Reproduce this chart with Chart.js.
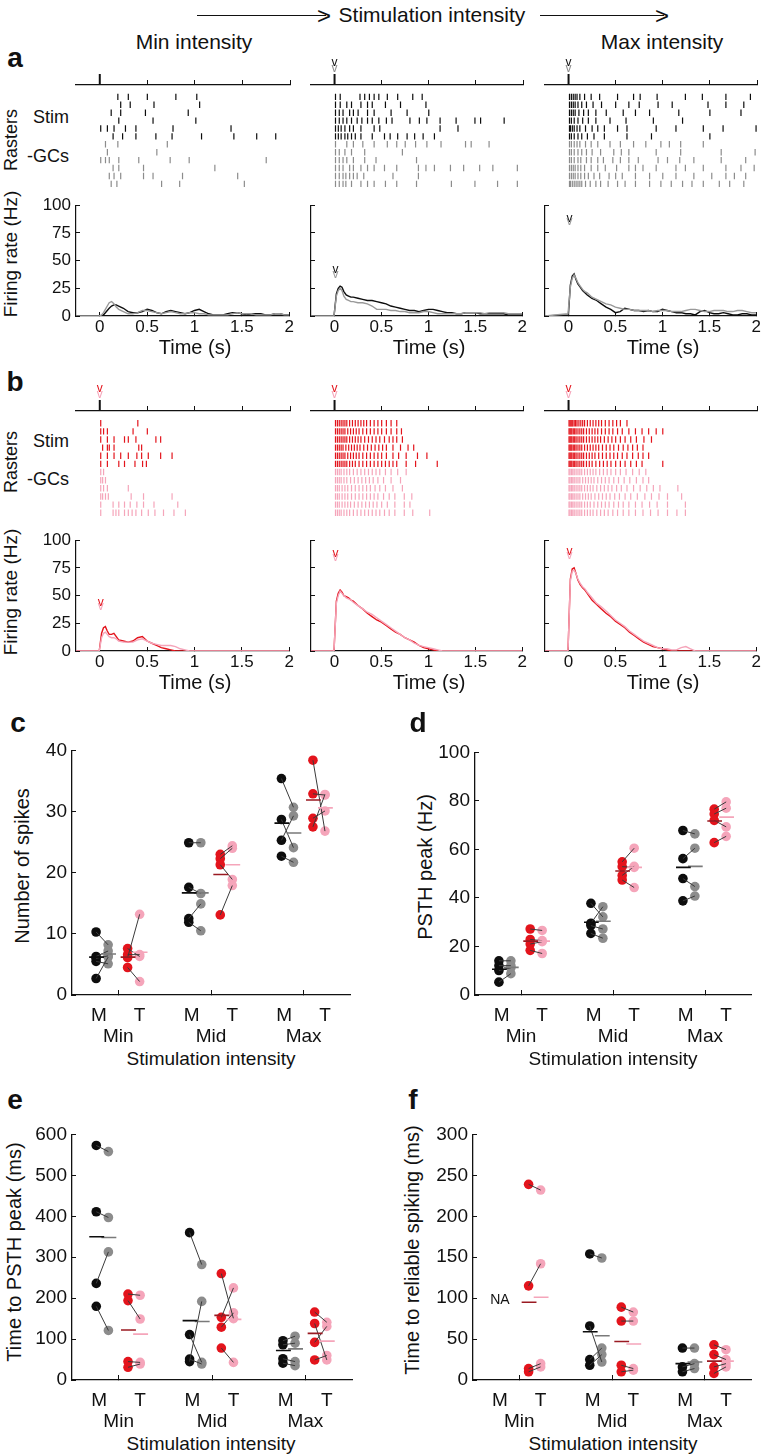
<!DOCTYPE html>
<html>
<head>
<meta charset="utf-8">
<script src="https://cdn.jsdelivr.net/npm/chart.js@4.4.0/dist/chart.umd.min.js"></script>
<style>
  body { margin:0; background:#fff; width:766px; height:1455px; position:relative; overflow:hidden;
         font-family:"Liberation Sans", Arial, Helvetica, sans-serif; color:#111; }
  canvas { position:absolute; }
  .t { position:absolute; white-space:nowrap; line-height:1; color:#111; }
</style>
</head>
<body>
<script>
// ---------- PSTH data (time in s, rate in Hz) ----------
const psthT = [-0.25,-0.005,0,0.02,0.04,0.06,0.08,0.1,0.125,0.15,0.175,0.2,
  0.25,0.3,0.35,0.4,0.45,0.5,0.55,0.6,0.65,0.7,0.75,0.8,0.85,0.9,0.95,1.0,1.05,1.1,1.15,1.2,
  1.25,1.3,1.35,1.4,1.45,1.5,1.55,1.6,1.65,1.7,1.75,1.8,1.85,1.9,1.95,2.0];
const psthTicks = [0, 0.5, 1, 1.5, 2];
const rateTicks = [0, 25, 50, 75, 100];

// row a: stimulation with black (Stim) / gray (-GCs)
const a1Blk = [0,0,0,0,1,3,5,7,9,10,10,9, 7,4,3,3,4,6,5,3,2,4,5,4, 3,2,3,5,6,4,2,1,1,1,2,3, 3,2,1,2,2,2,1,1,2,2,1,1];
const a1Gry = [0,0,0,1,3,6,9,12,13,11,8,6, 4,2,2,3,5,5,4,3,2,3,4,3, 2,2,3,3,2,2,1,1,1,1,1,2, 3,2,2,2,1,1,1,1,2,2,1,1];
const a2Blk = [0,0,0,20,25,27,26,22,19,18,17,17, 16,15,14,14,13,12,11,9,8,7,6,5, 5,4,5,6,6,5,4,3,3,2,2,3, 3,3,2,2,2,2,2,2,1,1,1,1];
const a2Gry = [0,0,0,18,23,25,23,18,15,14,13,13, 12,12,11,9,6,6,6,5,5,4,4,3, 3,3,4,4,3,2,2,2,2,2,2,3, 3,3,3,2,3,3,3,3,2,2,2,2];
const a3Blk = [0,1,2,28,36,38,33,29,26,23,21,19, 16,14,11,8,6,3,4,7,6,5,5,4, 5,4,4,6,5,4,3,3,2,2,1,4, 5,3,2,2,3,2,1,1,2,2,1,1];
const a3Gry = [0,2,2,26,34,37,34,30,27,24,22,21, 17,15,13,11,10,8,7,6,6,5,5,5, 5,4,5,5,5,4,4,4,5,6,6,5, 4,4,5,5,5,4,4,5,5,4,3,3];
// row b: red (Stim) / pink (-GCs)
const b1Red = [0,0,0,16,21,22,18,15,15,16,13,10, 9,8,9,12,13,9,7,5,3,2,1,0, 0,0,0,0,0,0,0,0,0,0,0,0, 0,0,0,0,0,0,0,0,0,0,0,0];
const b1Pnk = [0,0,0,12,16,17,15,13,12,12,11,9, 8,8,8,10,11,9,7,6,5,5,5,4, 2,1,0,0,0,0,0,0,0,0,0,0, 0,0,0,0,0,0,0,0,0,0,0,0];
const b2Red = [0,0,0,45,52,55,53,50,49,48,46,45, 41,38,34,31,28,26,23,20,17,15,12,10, 8,5,3,2,1,0,0,0,0,0,0,0, 0,0,0,0,0,0,0,0,0,0,0,0];
const b2Pnk = [0,0,0,43,50,54,52,50,48,47,46,44, 41,38,35,33,30,27,24,21,18,15,12,10, 7,5,4,3,2,1,0,0,0,0,0,0, 0,0,0,0,0,0,0,0,0,0,0,0];
const b3Red = [0,0,0,65,74,75,70,64,60,57,55,52, 46,42,38,34,31,27,24,21,17,14,11,8, 6,4,3,2,1,0,0,0,0,0,0,0, 0,0,0,0,0,0,0,0,0,0,0,0];
const b3Pnk = [0,0,0,63,72,73,70,65,61,58,56,53, 48,43,40,36,32,28,25,22,18,15,12,9, 7,5,3,2,2,1,1,3,4,2,0,0, 0,0,0,0,0,0,0,0,0,0,0,0];

// peak markers "v" (Hz) for [dark, light] trace, per column
const vPsthA = [null, [42, 37], [88, 85]];
const vPsthB = [[44, 40], [88, 84], [90, 86]];

// ---------- raster spike times (s); rows 1-6 Stim, rows 7-12 -GCs ----------
const rasA1 = [
  [0.19,0.30,0.50,0.80,1.02], [0.22,0.32,0.57,1.05], [0.12,0.22,0.48,0.93], [0.20,0.56,1.01],
  [0.01,0.08,0.15,0.27,0.38,0.77,1.38], [0.14,0.24,0.38,0.59,0.76,1.07,1.41,1.65,1.85],
  [0.06,0.19,0.71], [0.08,0.60], [0.01,0.06,0.10,0.20,0.41,0.74,0.94,1.75], [0.14,0.20,0.46,1.21],
  [0.10,0.15,0.22,0.46,0.56,0.87,1.45], [0.12,0.18,0.65,0.84,1.52]];
const rasA2 = [
  [0.01,0.06,0.27,0.32,0.37,0.42,0.47,0.56,0.67,0.83,0.93],
  [0.01,0.06,0.13,0.18,0.28,0.35,0.40,0.54,0.70,0.97],
  [0.01,0.05,0.09,0.16,0.20,0.25,0.35,0.42,0.60,0.77,1.00],
  [0.01,0.05,0.09,0.13,0.18,0.24,0.29,0.35,0.40,0.47,0.55,0.61,0.80,0.90,0.98,1.12,1.29,1.49,1.55,1.80],
  [0.01,0.04,0.07,0.11,0.16,0.20,0.28,0.42,0.48,1.12,1.31],
  [0.01,0.04,0.07,0.11,0.14,0.18,0.22,0.28,0.40,0.53,0.59,0.67,0.77,0.85,0.94,1.06],
  [0.01,0.13,0.20,0.30,0.42,0.56,0.66,0.75,0.86,0.98,1.13,1.39,1.45,1.64],
  [0.01,0.05,0.11,0.18,0.32,0.72],
  [0.01,0.05,0.09,0.13,0.20,0.32,0.44,0.87],
  [0.01,0.05,0.09,0.16,0.20,0.28,0.35,0.42,0.53,0.66,0.89,0.97,1.06,1.23,1.37,1.54,1.68,1.94],
  [0.01,0.05,0.09,0.12,0.16,0.20,0.24,0.31,0.62,0.89],
  [0.01,0.05,0.09,0.12,0.18,0.28,0.35,0.42,0.54,0.66,0.87,1.24,1.49,1.73,1.94]];
const rasA3 = [
  [0.01,0.03,0.05,0.07,0.09,0.12,0.17,0.24,0.33,0.52,0.69,0.76,0.94,1.24,1.42,1.67,1.93],
  [0.01,0.03,0.05,0.07,0.10,0.14,0.19,0.26,0.35,0.50,0.64,0.75,0.95,1.10,1.48,1.67,1.86],
  [0.01,0.03,0.05,0.07,0.11,0.16,0.21,0.29,0.40,0.58,0.71,0.86,1.17,1.50,1.83],
  [0.01,0.03,0.06,0.10,0.15,0.21,0.29,0.44,0.61,0.90,1.21],
  [0.01,0.02,0.04,0.06,0.09,0.12,0.18,0.25,0.31,0.38,0.52,0.62,0.93,1.14,1.43,1.64,1.99],
  [0.01,0.03,0.06,0.10,0.14,0.20,0.27,0.38,0.62,0.88,1.50],
  [0.01,0.03,0.06,0.09,0.12,0.18,0.24,0.31,0.44,0.55,0.69,0.82,0.98,1.07,1.19,1.43],
  [0.01,0.03,0.06,0.10,0.14,0.19,0.25,0.34,0.48,0.56,0.64,0.93,1.19,1.62,1.98],
  [0.01,0.03,0.06,0.10,0.13,0.19,0.24,0.31,0.37,0.47,0.55,0.64,0.74,0.95,1.05,1.18,1.33,1.62,1.88],
  [0.01,0.03,0.05,0.07,0.10,0.13,0.17,0.24,0.31,0.39,0.51,0.64,0.71,0.79,0.93,1.14,1.24,1.43,1.67,1.83,1.97],
  [0.01,0.03,0.05,0.07,0.10,0.13,0.17,0.21,0.27,0.33,0.43,0.50,0.57,0.71,0.86,1.00,1.14,1.33,1.52,1.67,1.76,1.88],
  [0.01,0.02,0.04,0.06,0.08,0.10,0.12,0.14,0.18,0.23,0.29,0.34,0.42,0.52,0.60,0.71,0.86,0.98,1.09,1.21,1.31,1.43,1.60,1.71,1.86]];
const rasB1 = [
  [0.01,0.40], [0.01,0.04,0.08,0.35,0.50], [0.01,0.08,0.15,0.26,0.30,0.38,0.59,0.64],
  [0.03,0.08,0.10,0.15,0.41,0.44], [0.01,0.08,0.15,0.22,0.30,0.39,0.44,0.51,0.64,0.76],
  [0.01,0.08,0.20,0.26,0.37,0.45,0.49],
  [0.01,0.04], [0.01,0.03,0.06], [0.01,0.04,0.08,0.30], [0.01,0.03,0.06,0.09,0.33,0.46,0.76],
  [0.01,0.14,0.20,0.26,0.32,0.39,0.46,0.57,0.82],
  [0.01,0.14,0.17,0.20,0.26,0.30,0.34,0.38,0.44,0.51,0.58,0.67,0.78,0.90]];
const rasB2 = [
  [0.01,0.03,0.05,0.07,0.09,0.11,0.13,0.16,0.19,0.22,0.25,0.28,0.31,0.34,0.38,0.42,0.46,0.50,0.55,0.60,0.66],
  [0.01,0.03,0.05,0.07,0.09,0.11,0.14,0.17,0.20,0.23,0.26,0.30,0.34,0.38,0.42,0.46,0.50,0.55,0.60,0.66,0.71],
  [0.01,0.03,0.05,0.07,0.09,0.11,0.13,0.16,0.19,0.22,0.25,0.28,0.32,0.36,0.40,0.44,0.48,0.53,0.58,0.62,0.66,0.72],
  [0.01,0.03,0.05,0.07,0.09,0.12,0.15,0.18,0.21,0.24,0.27,0.31,0.35,0.39,0.43,0.47,0.51,0.55,0.62,0.70,0.78,0.84],
  [0.01,0.03,0.05,0.07,0.09,0.11,0.14,0.17,0.20,0.23,0.26,0.30,0.34,0.38,0.42,0.46,0.50,0.55,0.62,0.68,0.76,0.88,0.98],
  [0.01,0.03,0.05,0.07,0.09,0.11,0.13,0.16,0.19,0.22,0.26,0.30,0.34,0.38,0.42,0.46,0.50,0.54,0.58,0.62,0.66,0.76,0.86,1.09],
  [0.01,0.03,0.05,0.07,0.10,0.13,0.16,0.20,0.24,0.28,0.32,0.36,0.40,0.44,0.48,0.54,0.60,0.67,0.76],
  [0.01,0.03,0.05,0.07,0.10,0.13,0.17,0.21,0.25,0.29,0.33,0.37,0.41,0.46,0.52,0.60,0.70],
  [0.01,0.03,0.05,0.08,0.11,0.14,0.18,0.22,0.26,0.30,0.34,0.38,0.43,0.48,0.54,0.62,0.72],
  [0.01,0.03,0.05,0.08,0.11,0.14,0.18,0.22,0.26,0.30,0.34,0.38,0.42,0.46,0.52,0.58,0.64,0.74,0.82],
  [0.01,0.03,0.05,0.08,0.11,0.14,0.17,0.21,0.25,0.29,0.33,0.37,0.41,0.45,0.50,0.56,0.64,0.74,0.80],
  [0.01,0.03,0.05,0.07,0.10,0.13,0.16,0.20,0.24,0.28,0.32,0.36,0.40,0.44,0.48,0.53,0.58,0.64,0.74,0.83,1.01]];
const rasB3 = [
  [0.005,0.015,0.025,0.035,0.045,0.06,0.075,0.09,0.11,0.13,0.15,0.17,0.20,0.23,0.26,0.29,0.32,0.35,0.39,0.43,0.47,0.51,0.55,0.62],
  [0.005,0.015,0.025,0.035,0.05,0.065,0.08,0.10,0.12,0.14,0.16,0.19,0.22,0.25,0.28,0.31,0.35,0.39,0.43,0.47,0.52,0.57,0.64,0.71,0.78,0.85,0.93,1.0],
  [0.005,0.015,0.025,0.035,0.05,0.065,0.08,0.10,0.12,0.14,0.16,0.19,0.22,0.25,0.28,0.31,0.34,0.38,0.42,0.46,0.50,0.55,0.60,0.66,0.72,0.80,0.88],
  [0.005,0.015,0.025,0.035,0.05,0.065,0.08,0.10,0.12,0.14,0.17,0.20,0.23,0.26,0.29,0.32,0.36,0.40,0.44,0.48,0.53,0.58,0.63,0.68,0.73,0.79],
  [0.005,0.015,0.025,0.035,0.05,0.065,0.08,0.10,0.12,0.14,0.16,0.19,0.22,0.25,0.28,0.32,0.36,0.40,0.44,0.48,0.52,0.57,0.62,0.68,0.74,0.79,0.85],
  [0.005,0.015,0.025,0.035,0.05,0.065,0.08,0.10,0.12,0.14,0.16,0.19,0.22,0.25,0.29,0.33,0.37,0.41,0.45,0.50,0.55,0.60,0.66,0.72,0.78,1.0],
  [0.005,0.015,0.03,0.045,0.06,0.08,0.10,0.12,0.14,0.17,0.20,0.23,0.26,0.29,0.33,0.37,0.41,0.45,0.50,0.55,0.61,0.68,0.75,0.82],
  [0.005,0.015,0.03,0.045,0.06,0.08,0.10,0.12,0.15,0.18,0.21,0.24,0.27,0.31,0.35,0.39,0.43,0.48,0.53,0.59,0.65,0.72,0.79,0.85],
  [0.005,0.015,0.03,0.045,0.06,0.08,0.10,0.12,0.14,0.17,0.20,0.23,0.26,0.30,0.34,0.38,0.42,0.46,0.51,0.56,0.62,0.69,0.76,0.83,0.90,0.97,1.16],
  [0.005,0.015,0.03,0.045,0.06,0.08,0.10,0.12,0.15,0.18,0.21,0.24,0.28,0.32,0.36,0.40,0.44,0.49,0.54,0.60,0.66,0.73,0.81,0.88,0.96,1.05,1.2],
  [0.005,0.015,0.03,0.045,0.06,0.08,0.10,0.12,0.14,0.17,0.20,0.23,0.27,0.31,0.35,0.39,0.43,0.48,0.53,0.58,0.64,0.71,0.78,0.86,0.94,1.05,1.24],
  [0.005,0.015,0.03,0.045,0.06,0.08,0.10,0.12,0.14,0.17,0.20,0.23,0.26,0.30,0.34,0.38,0.42,0.47,0.52,0.58,0.64,0.71,0.79,0.87,0.95,1.05,1.15,1.24]];
// raster "v" markers: which columns have them
const vRasA = [false, true, true];
const vRasB = [true, true, true];

// ---------- summary panels: groups Min / Mid / Max, paired by index ----------
const groupNames = ['Min', 'Mid', 'Max'];
const condNames = ['M', 'T'];

// c: number of spikes
const spkBlk = [[10.3,6.3,5.5,2.7,6.0], [24.9,17.6,12.5,11.9], [35.4,28.7,25.3,22.7]];
const spkGry = [[8.2,7.2,5.1,6.2,6.4], [24.9,16.6,14.9,10.5], [30.7,24.1,29.3,21.7]];
const spkRed = [[7.6,6.1,4.5,6.6], [23.0,22.3,21.3,13.1], [38.4,32.9,28.9,27.5]];
const spkPnk = [[6.3,13.2,2.2,6.6], [24.4,24.0,18.9,17.9], [26.8,32.7,30.1,32.8]];
const spkMeanBlk = [6.2, 16.7, 28.1], spkMeanGry = [6.7, 16.7, 26.5];
const spkMeanRed = [6.2, 19.7, 31.9], spkMeanPnk = [7.0, 21.3, 30.6];

// d: PSTH peak (Hz)
const pkBlk = [[14.1,12.1,10.1,5.3], [37.8,29.6,28.6,25.4], [67.8,56.2,48.0,38.8]];
const pkGry = [[14.1,12.1,11.2,8.8], [32.2,36.4,27.2,23.4], [66.4,60.5,44.7,40.8]];
const pkRed = [[27.2,22.9,21.0,18.4], [54.9,52.9,49.3,47.4], [76.6,74.6,72.0,62.8]];
const pkPnk = [[26.6,22.4,22.0,17.1], [60.5,52.6,53.0,44.3], [79.6,77.0,69.3,65.4]];
const pkMeanBlk = [10.6, 30.0, 52.6], pkMeanGry = [11.4, 30.4, 53.0];
const pkMeanRed = [22.2, 51.1, 71.7], pkMeanPnk = [22.2, 52.6, 73.3];

// e: time to PSTH peak (ms)
const tpBlk = [[573,411,236,180], [360,111,51,45], [96,86,52,41]];
const tpGry = [[558,397,313,121], [282,43,39,192], [107,90,45,35]];
const tpRed = [[210,194,45,31], [260,153,129,78], [166,138,92,49]];
const tpPnk = [[207,149,43,39], [150,225,164,43], [141,49,131,60]];
const tpMeanBlk = [350, 145, 72], tpMeanGry = [348, 143, 76];
const tpMeanRed = [122, 158, 114], tpMeanPnk = [112, 148, 95];

// f: time to reliable spiking (ms); no M data at Min (NA)
const trBlk = [[], [154,66,25,18], [39,16,10]];
const trGry = [[], [149,22,39,31], [39,20,14]];
const trRed = [[239,115,14,10], [89,72,18,10], [43,31,16,8]];
const trPnk = [[232,142,20,16], [83,72,14,12], [37,25,20,16]];
const trMeanBlk = [null, 59, 20], trMeanGry = [null, 54, 22];
const trMeanRed = [95, 47, 23], trMeanPnk = [101, 44, 23];

// ---------- styling ----------
const FONT = '"Liberation Sans", Arial, Helvetica, sans-serif';
Chart.defaults.font.family = FONT;
Chart.defaults.color = '#111';
const C_BLK = '#0d0d0d', C_GRY = '#8c8c8c', C_RED = '#e3141c', C_PNK = '#f5a5ba';
const C_RED_MEAN = '#9a1a22', C_GRY_MEAN = '#7a7a7a';
const COL_L = [76, 311, 545], COL_R = [290, 523, 757];   // PSTH/raster plot areas
const dotOff = [-0.24, -0.11, 0.10, 0.23];                 // blk, gry, red, pnk
const condOff = [-0.21, 0.23];

function mkCanvas(l, t, r, b, m) {
  const c = document.createElement('canvas');
  const w = r - l + m.l + m.r, h = b - t + m.t + m.b;
  c.width = w; c.height = h;
  c.style.left = (l - m.l) + 'px'; c.style.top = (t - m.t) + 'px';
  c.style.width = w + 'px'; c.style.height = h + 'px';
  document.body.appendChild(c);
  return c;
}

function txt(s, x, y, size, opt = {}) {
  const d = document.createElement('div');
  d.className = 't';
  d.textContent = s;
  d.style.left = x + 'px';
  d.style.top = y + 'px';
  d.style.fontSize = size + 'px';
  d.style.transform = 'translate(-50%,-50%)' + (opt.rot ? ' rotate(-90deg)' : '');
  if (opt.bold) d.style.fontWeight = 'bold';
  document.body.appendChild(d);
}

function arrow(x1, x2, y) {
  const l = document.createElement('div');
  l.style.cssText = `position:absolute;left:${x1}px;top:${y}px;width:${x2 - x1}px;height:0;border-top:1.4px solid #111;`;
  document.body.appendChild(l);
  txt('>', x2 - 2, y + 1, 24);
}

const baseOpts = () => ({
  responsive: false, animation: false, events: [], devicePixelRatio: 1,
  plugins: { legend: { display: false }, tooltip: { enabled: false } }
});

// draws little "v" glyphs at data coordinates
function vPlugin(marks) {
  return {
    id: 'vmarks',
    afterDatasetsDraw(chart) {
      const { ctx } = chart, xs = chart.scales.x, ys = chart.scales.y;
      ctx.save();
      ctx.font = '12px ' + FONT;
      ctx.textAlign = 'center';
      ctx.textBaseline = 'middle';
      marks.forEach(([t, v, col]) => {
        ctx.fillStyle = col;
        ctx.fillText('v', xs.getPixelForValue(t), ys.getPixelForValue(v));
      });
      ctx.restore();
    }
  };
}

function rasterPanel(col, top, bottom, rows, cDark, cLight, withV) {
  const m = { l: 8, r: 9, t: 32, b: 4 };
  const cv = mkCanvas(COL_L[col], top, COL_R[col], bottom, m);
  const pts = (from, to) => rows.slice(from, to).flatMap((r, i) => r.map(t => ({ x: t, y: from + i + 1 })));
  const ds = (data, color) => ({ data, pointStyle: 'line', rotation: 90, radius: 3.2,
    borderColor: color, borderWidth: 1.2, backgroundColor: color });
  const marks = withV ? [[0, -3.3, cDark], [0, -2.5, cLight]] : [];
  const zeroTick = {
    id: 'zeroTick',
    afterDraw(chart) {
      const { ctx } = chart, x = chart.scales.x.getPixelForValue(0), y = chart.chartArea.top;
      ctx.save(); ctx.strokeStyle = '#111'; ctx.lineWidth = 2;
      ctx.beginPath(); ctx.moveTo(x, y); ctx.lineTo(x, y - 11); ctx.stroke(); ctx.restore();
    }
  };
  new Chart(cv, {
    type: 'scatter',
    data: { datasets: [ds(pts(0, 6), cDark), ds(pts(6, 12), cLight)] },
    options: Object.assign(baseOpts(), {
      layout: { padding: { left: m.l, right: m.r, top: 0, bottom: m.b } },
      scales: {
        x: { type: 'linear', position: 'top', min: -0.25, max: 2,
             afterBuildTicks: s => { s.ticks = psthTicks.map(v => ({ value: v })); },
             afterFit: s => { s.height = m.t; },
             ticks: { display: false },
             grid: { drawOnChartArea: false, tickLength: 5, color: '#111', tickColor: '#111' },
             border: { color: '#111', width: 1.2 } },
        y: { display: false, reverse: true, min: -0.5, max: 12.5 }
      }
    }),
    plugins: [zeroTick, vPlugin(marks)]
  });
}

function psthPanel(col, top, bottom, dark, light, cDark, cLight, showLabels, vm) {
  const m = { l: 42, r: 9, t: 10, b: 22 };
  const cv = mkCanvas(COL_L[col], top, COL_R[col], bottom, m);
  const line = (vals, color) => ({ type: 'line', data: psthT.map((t, i) => ({ x: t, y: vals[i] })),
    borderColor: color, borderWidth: 1.4, pointRadius: 0, tension: 0, fill: false });
  const marks = vm ? [[0.01, vm[0], cDark], [0.01, vm[1], cLight]] : [];
  new Chart(cv, {
    type: 'scatter',
    data: { datasets: [line(light, cLight), line(dark, cDark)] },
    options: Object.assign(baseOpts(), {
      layout: { padding: { left: 0, right: m.r, top: m.t, bottom: 0 } },
      scales: {
        x: { type: 'linear', min: -0.25, max: 2,
             afterBuildTicks: s => { s.ticks = psthTicks.map(v => ({ value: v })); },
             afterFit: s => { s.height = m.b; },
             ticks: { font: { size: 17 }, padding: 5, color: '#111', maxRotation: 0, callback: v => String(v) },
             grid: { drawOnChartArea: false, tickLength: -4, tickColor: '#111' },
             border: { color: '#111', width: 1.2 } },
        y: { min: 0, max: 100,
             afterBuildTicks: s => { s.ticks = rateTicks.map(v => ({ value: v })); },
             afterFit: s => { s.width = m.l; },
             ticks: { font: { size: 17 }, padding: 9, color: '#111', callback: v => showLabels ? String(v) : '' },
             grid: { drawOnChartArea: false, tickLength: -4, tickColor: '#111' },
             border: { color: '#111', width: 1.2 } }
      }
    }),
    plugins: [vPlugin(marks)]
  });
}

function summaryPanel(box, ymax, ystep, labelStep, blk, gry, red, pnk, means, na) {
  const m = { l: 42, r: 8, t: 10, b: 52 };
  const cv = mkCanvas(box[0], box[1], box[2], box[3], m);
  const series = [blk, gry, red, pnk];
  const colors = [C_BLK, C_GRY, C_RED, C_PNK];
  const meanColors = [C_BLK, C_GRY_MEAN, C_RED_MEAN, C_PNK];
  const dotSets = series.map((s, k) => ({
    type: 'scatter',
    data: s.flatMap((vals, g) => vals.map(v => ({ x: g + 0.5 + dotOff[k], y: v }))),
    pointRadius: 4.8, pointBorderWidth: 0, backgroundColor: colors[k], order: 3
  }));
  const pairData = [];
  [[0, 1], [2, 3]].forEach(([a, b]) => {
    series[a].forEach((vals, g) => vals.forEach((v, i) => {
      pairData.push({ x: g + 0.5 + dotOff[a], y: v }, { x: g + 0.5 + dotOff[b], y: series[b][g][i] },
                    { x: g + 0.5 + dotOff[b], y: null });
    }));
  });
  const pairSet = { type: 'line', data: pairData, borderColor: '#3a3a3a', borderWidth: 1,
    pointRadius: 0, spanGaps: false, order: 2 };
  const meanSets = means.map((mv, k) => ({
    type: 'line', borderColor: meanColors[k], borderWidth: 1.6, pointRadius: 0, spanGaps: false, order: 1,
    data: mv.flatMap((v, g) => v == null ? [] : [
      { x: g + 0.5 + dotOff[k] - 0.075, y: v }, { x: g + 0.5 + dotOff[k] + 0.085, y: v },
      { x: g + 0.5 + dotOff[k] + 0.085, y: null }])
  }));
  const labels = {
    id: 'groupLabels',
    afterDraw(chart) {
      const { ctx } = chart, xs = chart.scales.x, ys = chart.scales.y, b = chart.chartArea.bottom;
      ctx.save();
      ctx.fillStyle = '#111'; ctx.textAlign = 'center'; ctx.textBaseline = 'middle';
      ctx.font = '19px ' + FONT;
      groupNames.forEach((g, i) => {
        condNames.forEach((c, j) => ctx.fillText(c, xs.getPixelForValue(i + 0.5 + condOff[j]), b + 21));
        ctx.fillText(g, xs.getPixelForValue(i + 0.5), b + 42);
      });
      if (na) {
        ctx.font = '14px ' + FONT;
        ctx.fillText('NA', xs.getPixelForValue(na[0]), ys.getPixelForValue(na[1]));
      }
      ctx.restore();
    }
  };
  new Chart(cv, {
    type: 'scatter',
    data: { datasets: [...dotSets, pairSet, ...meanSets] },
    options: Object.assign(baseOpts(), {
      layout: { padding: { left: 0, right: m.r, top: m.t, bottom: 0 } },
      scales: {
        x: { type: 'linear', min: 0, max: 3,
             afterBuildTicks: s => { s.ticks = [0.5, 1.5, 2.5].map(v => ({ value: v })); },
             afterFit: s => { s.height = m.b; },
             ticks: { display: false },
             grid: { drawOnChartArea: false, tickLength: -5, tickColor: '#111' },
             border: { color: '#111', width: 1.3 } },
        y: { min: 0, max: ymax,
             ticks: { stepSize: ystep, font: { size: 19 }, padding: 9, color: '#111',
                      callback: v => (Math.round(v) % labelStep === 0 ? String(v) : '') },
             afterFit: s => { s.width = m.l; },
             grid: { drawOnChartArea: false, tickLength: -4, tickColor: '#111' },
             border: { color: '#111', width: 1.3 } }
      }
    }),
    plugins: [labels]
  });
}

// ---------- header ----------
txt('Stimulation intensity', 432, 14, 21);
arrow(197, 326, 15);
arrow(540, 664, 15);
txt('Min intensity', 194, 41, 21);
txt('Max intensity', 662, 41, 21);

// ---------- row a ----------
txt('a', 15, 58, 28, { bold: true });
txt('Stim', 51, 117, 18); txt('Rasters', 11, 140, 18, { rot: true }); txt('-GCs', 48, 156, 18);
txt('Firing rate (Hz)', 10, 254, 19, { rot: true });
const rasA = [rasA1, rasA2, rasA3], psA = [[a1Blk, a1Gry], [a2Blk, a2Gry], [a3Blk, a3Gry]];
[0, 1, 2].forEach(c => {
  rasterPanel(c, 85, 189, rasA[c], C_BLK, C_GRY, vRasA[c]);
  psthPanel(c, 196, 316, psA[c][0], psA[c][1], C_BLK, '#999', c === 0, vPsthA[c]);
  txt('Time (s)', (COL_L[c] + 24 + COL_R[c]) / 2, 347, 20);
});

// ---------- row b ----------
txt('b', 15, 382, 28, { bold: true });
txt('Stim', 51, 441, 18); txt('Rasters', 11, 462, 18, { rot: true }); txt('-GCs', 48, 479, 18);
txt('Firing rate (Hz)', 10, 592, 19, { rot: true });
const rasB = [rasB1, rasB2, rasB3], psB = [[b1Red, b1Pnk], [b2Red, b2Pnk], [b3Red, b3Pnk]];
[0, 1, 2].forEach(c => {
  rasterPanel(c, 411, 518, rasB[c], C_RED, C_PNK, vRasB[c]);
  psthPanel(c, 531, 651, psB[c][0], psB[c][1], C_RED, C_PNK, c === 0, vPsthB[c]);
  txt('Time (s)', (COL_L[c] + 24 + COL_R[c]) / 2, 682, 20);
});

// ---------- c, d ----------
txt('c', 18, 723, 28, { bold: true });
txt('Number of spikes', 22, 866, 20, { rot: true });
summaryPanel([72, 740, 350, 995], 40, 10, 10, spkBlk, spkGry, spkRed, spkPnk,
  [spkMeanBlk, spkMeanGry, spkMeanRed, spkMeanPnk], null);
txt('Stimulation intensity', 211, 1058, 19);

txt('d', 418, 723, 28, { bold: true });
txt('PSTH peak (Hz)', 425, 867, 20, { rot: true });
summaryPanel([475, 742, 751, 995], 100, 10, 20, pkBlk, pkGry, pkRed, pkPnk,
  [pkMeanBlk, pkMeanGry, pkMeanRed, pkMeanPnk], null);
txt('Stimulation intensity', 613, 1058, 19);

// ---------- e, f ----------
txt('e', 15, 1100, 28, { bold: true });
txt('Time to PSTH peak (ms)', 14, 1252, 20, { rot: true });
summaryPanel([72, 1124, 352, 1380], 600, 100, 100, tpBlk, tpGry, tpRed, tpPnk,
  [tpMeanBlk, tpMeanGry, tpMeanRed, tpMeanPnk], null);
txt('Stimulation intensity', 211, 1443, 19);

txt('f', 413, 1100, 28, { bold: true });
txt('Time to reliable spiking (ms)', 412, 1250, 20, { rot: true });
summaryPanel([473, 1124, 751, 1380], 300, 50, 50, trBlk, trGry, trRed, trPnk,
  [trMeanBlk, trMeanGry, trMeanRed, trMeanPnk], [0.29, 98]);
txt('Stimulation intensity', 613, 1443, 19);
</script>
</body>
</html>
